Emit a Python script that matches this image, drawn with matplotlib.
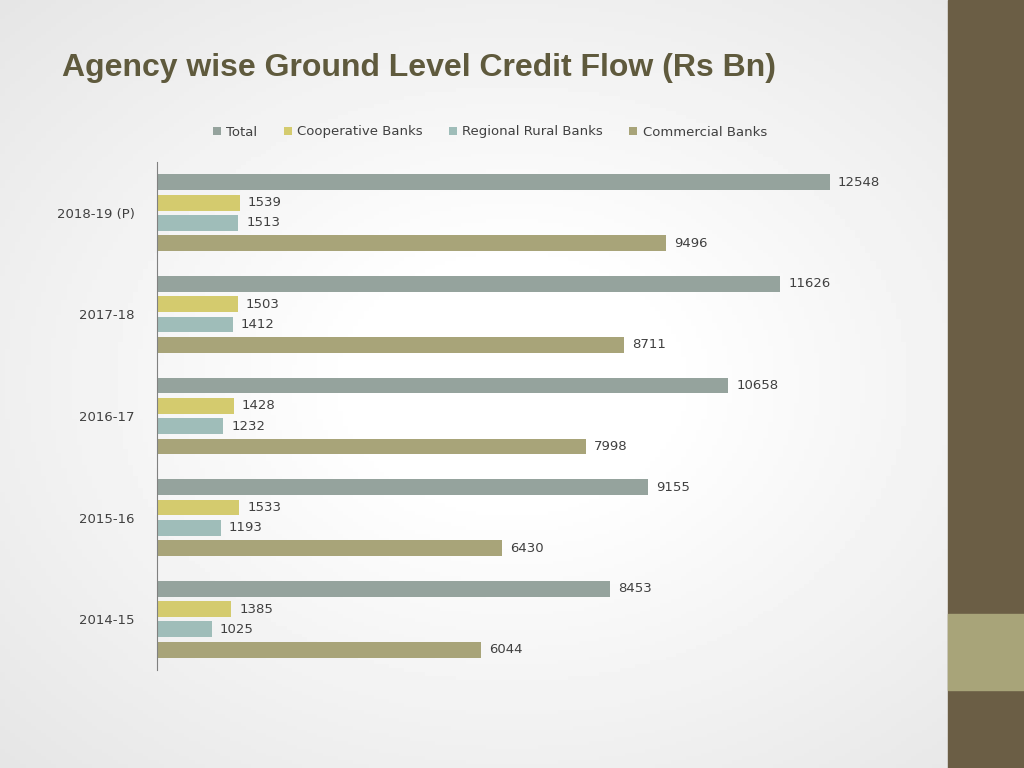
import numpy as np
import matplotlib.pyplot as plt
from matplotlib.patches import Rectangle

years = ['2018-19 (P)', '2017-18', '2016-17', '2015-16', '2014-15']
series = ['Total', 'Cooperative Banks', 'Regional Rural Banks', 'Commercial Banks']
total = [12548, 11626, 10658, 9155, 8453]
coop = [1539, 1503, 1428, 1533, 1385]
rrb = [1513, 1412, 1232, 1193, 1025]
commercial = [9496, 8711, 7998, 6430, 6044]
colors = ['#95A39D', '#D4CB6E', '#9FBDB9', '#A8A479']

fig = plt.figure(figsize=(10.24, 7.68), dpi=100)

# background: light gradient + right decorative bar
bg = fig.add_axes([0, 0, 1, 1], zorder=-10)
yy, xx = np.mgrid[-1:1:200j, -1:1:200j]
grad = 1 - 0.09 * np.clip(np.sqrt(xx**2 + yy**2) - 0.3, 0, None)
bg.imshow(grad, cmap='gray', vmin=0, vmax=1, extent=[0, 1, 0, 1], aspect='auto')
bg.add_patch(Rectangle((948/1024, 0), 76/1024, 1, color='#6B5E45'))
bg.add_patch(Rectangle((948/1024, 1 - 690/768), 76/1024, 76/768, color='#A8A479'))
bg.set_xlim(0, 1); bg.set_ylim(0, 1); bg.axis('off')

fig.text(62/1024, 1 - 68/768, 'Agency wise Ground Level Credit Flow (Rs Bn)',
         fontsize=23, fontweight='bold', color='#5F5A3D', va='center',
         family='Liberation Sans')

ax = fig.add_axes([157/1024, 1 - 670/768, 743/1024, 508/768])
ax.set_facecolor('none')
pos = np.arange(len(years))
offsets = [-0.3, -0.1, 0.1, 0.3]
for vals, off, c, name in zip([total, coop, rrb, commercial], offsets, colors, series):
    bars = ax.barh(pos + off, vals, height=0.155, color=c, label=name)
    for b, v in zip(bars, vals):
        ax.text(v + 150, b.get_y() + b.get_height() / 2, str(v),
                va='center', ha='left', fontsize=9.5, color='#404040')

ax.set_xlim(0, 13860)
ax.set_ylim(4.5, -0.5)
ax.set_yticks(pos)
ax.set_yticklabels(years, fontsize=9.5, color='#404040')
ax.tick_params(axis='y', length=0, pad=16)
ax.set_xticks([])
for s in ['top', 'right', 'bottom']:
    ax.spines[s].set_visible(False)
ax.spines['left'].set_color('#808080')

fig.legend(loc='center', bbox_to_anchor=(490/1024, 1 - 132/768), ncol=4,
           frameon=False, fontsize=9.5, handlelength=0.6, handleheight=0.6,
           handletextpad=0.4, columnspacing=2.0, labelcolor='#404040')

fig.savefig('out.png', dpi=100)
